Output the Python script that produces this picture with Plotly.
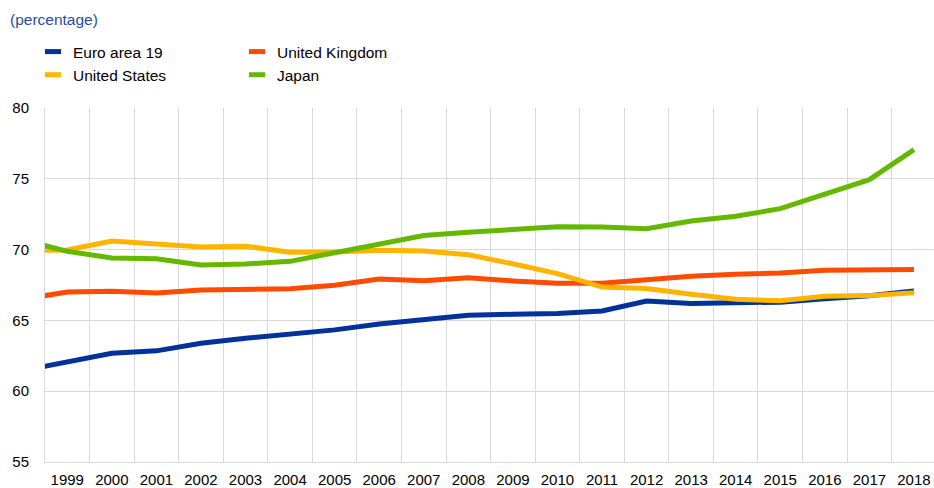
import plotly.graph_objects as go

years = list(range(1998, 2019))
tick_years = list(range(1999, 2019))
euro_area = [61.45, 62.05, 62.68, 62.85, 63.39, 63.74, 64.03, 64.33, 64.74, 65.09, 65.37,
             65.43, 65.48, 65.66, 66.37, 66.20, 66.27, 66.29, 66.53, 66.74, 67.07]
united_states = [69.95, 69.97, 70.61, 70.40, 70.19, 70.24, 69.81, 69.83, 69.95, 69.90, 69.63,
                 69.00, 68.30, 67.35, 67.25, 66.85, 66.50, 66.38, 66.70, 66.75, 66.95]
united_kingdom = [66.50, 67.00, 67.05, 66.93, 67.15, 67.22, 67.24, 67.48, 67.92, 67.80, 68.02,
                  67.79, 67.62, 67.62, 67.88, 68.12, 68.26, 68.35, 68.54, 68.54, 68.59]
japan = [70.68, 69.88, 69.41, 69.36, 68.92, 68.99, 69.17, 69.76, 70.33, 70.99, 71.22,
         71.44, 71.62, 71.60, 71.48, 72.02, 72.35, 72.89, 73.90, 74.94, 77.06]

series = [
    ("Euro area 19", euro_area, "#003299"),
    ("United Kingdom", united_kingdom, "#ff4b00"),
    ("United States", united_states, "#ffb400"),
    ("Japan", japan, "#65b800"),
]

FONT = "Liberation Sans, Arial, sans-serif"
fig = go.Figure()
for name, vals, color in series:
    fig.add_trace(go.Scatter(x=years, y=vals, mode="lines", name=name,
                             line=dict(color=color, width=5), showlegend=False))

legend_order = [("Euro area 19", "#003299", "legend"), ("United States", "#ffb400", "legend"),
                ("United Kingdom", "#ff4b00", "legend2"), ("Japan", "#65b800", "legend2")]
for name, color, lg in legend_order:
    fig.add_trace(go.Scatter(x=[None], y=[None], mode="markers", name=name, legend=lg,
                             marker=dict(symbol="line-ew", size=11.5,
                                         line=dict(color=color, width=5))))

grid = "#d9d9d9"
fig.update_layout(
    width=934, height=488,
    margin=dict(l=45, r=0, t=108, b=26, autoexpand=False),
    paper_bgcolor="white", plot_bgcolor="white",
    font=dict(family=FONT, size=15, color="#000000"),
    title=dict(text="(percentage)", x=10 / 934, xref="container", xanchor="left",
               y=1 - 20 / 488, yref="container", yanchor="middle",
               font=dict(family=FONT, size=15.5, color="#1f4ea1")),
    legend=dict(xref="container", yref="container", x=33 / 934, y=1 - 35 / 488,
                xanchor="left", yanchor="top", bgcolor="rgba(0,0,0,0)",
                font=dict(family=FONT, size=15.5), tracegroupgap=0),
    legend2=dict(xref="container", yref="container", x=237 / 934, y=1 - 35 / 488,
                 xanchor="left", yanchor="top", bgcolor="rgba(0,0,0,0)",
                 font=dict(family=FONT, size=15.5), tracegroupgap=0),
    xaxis=dict(range=[1998.5, 2018.45], tickmode="array", tickvals=tick_years,
               ticktext=[str(y) for y in tick_years], showgrid=False, zeroline=False,
               ticks="outside", ticklen=4, tickcolor="rgba(0,0,0,0)", tickangle=0,
               showline=True, linecolor=grid, linewidth=1,
               minor=dict(tickmode="array", tickvals=[y + 0.5 for y in years],
                          showgrid=True, gridcolor=grid, gridwidth=1, ticks="")),
    yaxis=dict(range=[55, 80], tickmode="array", tickvals=[55, 60, 65, 70, 75, 80],
               showgrid=True, gridcolor=grid, gridwidth=1, zeroline=False,
               showline=True, linecolor=grid, linewidth=1,
               ticks="outside", ticklen=12, tickcolor="rgba(0,0,0,0)"),
)

fig.write_html("out.html", config={"displayModeBar": False},
               post_script="document.body.style.margin='0';document.body.style.overflow='hidden';")
